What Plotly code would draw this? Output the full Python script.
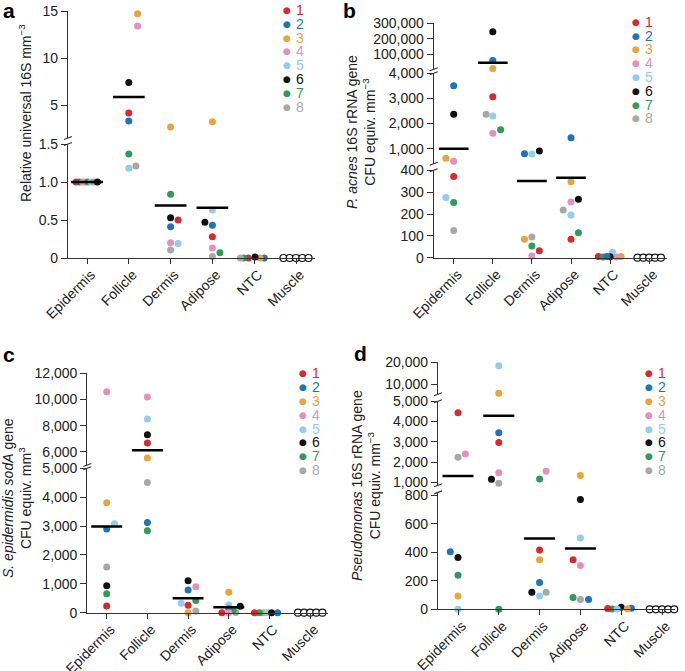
import plotly.graph_objects as go

W, H = 685, 671
FONT = "Liberation Sans, Arial, Helvetica, sans-serif"
AXIS_COLOR = "#333333"
TEXT_COLOR = "#222222"

TISSUES = ["Epidermis", "Follicle", "Dermis", "Adipose", "NTC", "Muscle"]
DONORS = [1, 2, 3, 4, 5, 6, 7, 8]
DONOR_COLORS = ["#d62a2e", "#1f73b7", "#e9a43b", "#e48fbe",
                "#90cdef", "#111111", "#2e9c57", "#a8a8a8"]

# points: (donor, value, jitter in category units); donor 0 = muscle (open circle)
MUSCLE = [(0, 0, -0.3), (0, 0, -0.15), (0, 0, 0), (0, 0, 0.15), (0, 0, 0.3)]

A_POINTS = {
    "Epidermis": [(1, 1.0, -0.26), (2, 1.0, -0.18), (3, 1.0, -0.1), (4, 1.0, -0.04),
                  (7, 1.0, 0.02), (5, 1.0, 0.1), (8, 1.0, 0.16), (6, 1.0, 0.25)],
    "Follicle": [(3, 14.7, 0.21), (4, 13.4, 0.21), (6, 7.4, 0), (1, 4.15, 0),
                 (2, 3.3, 0), (7, 1.37, 0), (5, 1.18, 0), (8, 1.21, 0.17)],
    "Dermis": [(3, 2.66, 0), (7, 0.84, 0), (6, 0.53, 0), (1, 0.5, 0.18),
               (2, 0.41, 0), (4, 0.2, 0), (5, 0.19, 0.18), (8, 0.105, 0)],
    "Adipose": [(3, 3.22, 0), (5, 0.63, 0), (6, 0.47, -0.18), (2, 0.43, 0),
                (1, 0.28, 0), (4, 0.13, 0), (8, 0.02, 0), (7, 0.07, 0.18)],
    "NTC": [(8, 0, -0.33), (7, 0, -0.25), (1, 0, -0.14), (6, 0.012, 0.02),
            (3, 0, 0.14), (2, 0, 0.24)],
    "Muscle": MUSCLE,
}
A_MEANS = [1.0, 5.85, 0.69, 0.66, None, None]

B_POINTS = {
    "Epidermis": [(2, 3500, 0), (6, 2370, 0), (3, 620, -0.2), (4, 500, 0),
                  (1, 372, 0), (5, 276, -0.2), (7, 253, 0), (8, 125, 0)],
    "Follicle": [(6, 245000, 0), (2, 61000, 0), (3, 10000, 0), (1, 3070, 0),
                 (8, 2370, -0.17), (5, 2300, 0), (4, 1620, 0), (7, 1755, 0.2)],
    "Dermis": [(2, 800, -0.19), (5, 790, 0), (6, 908, 0.19), (3, 84, -0.19),
               (8, 95, 0), (7, 54, 0), (1, 32, 0.19), (4, 8, 0)],
    "Adipose": [(2, 1440, 0), (3, 348, 0), (4, 255, 0), (6, 267, 0.19),
                (8, 218, -0.2), (5, 195, 0), (7, 114, 0.19), (1, 84, 0)],
    "NTC": [(1, 5, -0.3), (7, 3, -0.18), (2, 6, -0.08), (6, 4, 0.0),
            (5, 25, 0.06), (4, 3, 0.16), (3, 6, 0.28)],
    "Muscle": MUSCLE,
}
B_MEANS = [1000, 46000, 351, 366, None, None]

C_POINTS = {
    "Epidermis": [(4, 10600, 0), (3, 3810, 0), (5, 3080, 0.19), (2, 2900, 0),
                  (8, 1580, 0), (6, 930, 0), (7, 660, 0), (1, 233, 0)],
    "Follicle": [(4, 10200, 0), (5, 8520, 0), (6, 7300, 0), (1, 6680, 0),
                 (3, 5540, 0), (8, 4510, 0), (2, 3125, 0), (7, 2840, 0)],
    "Dermis": [(6, 1110, 0), (4, 900, 0.19), (2, 790, 0), (5, 330, -0.17),
               (7, 420, 0.19), (1, 260, 0), (8, 60, 0.19), (3, 0, 0)],
    "Adipose": [(3, 710, 0), (5, 270, 0), (6, 220, 0.28), (2, 140, 0),
                (7, 95, 0.11), (4, 0, 0), (8, 10, 0.17), (1, 0, -0.17)],
    "NTC": [(1, 0, -0.37), (7, 0, -0.25), (3, 0, -0.15), (5, 10, -0.05),
            (6, 0, 0.05), (2, 0, 0.2)],
    "Muscle": MUSCLE,
}
C_MEANS = [2986, 6127, 500, 188, None, None]

D_POINTS = {
    "Epidermis": [(1, 4430, 0), (8, 2230, 0), (4, 2400, 0.18), (2, 403, -0.19),
                  (6, 364, 0), (7, 239, 0), (3, 93, 0), (5, 0, 0)],
    "Follicle": [(5, 18300, 0), (3, 6000, 0), (2, 3450, 0), (1, 2960, 0),
                 (4, 1470, 0), (6, 1150, -0.18), (8, 950, 0), (7, 0, 0)],
    "Dermis": [(4, 1540, 0.16), (7, 1160, 0), (1, 416, 0), (3, 348, 0),
               (2, 188, 0), (8, 120, 0.16), (6, 120, -0.19), (5, 93, 0)],
    "Adipose": [(3, 1330, 0), (6, 770, 0), (5, 500, 0), (1, 348, -0.18),
                (4, 307, 0), (7, 82, -0.18), (8, 68, 0), (2, 68, 0.2)],
    "NTC": [(1, 5, -0.33), (7, 2, -0.22), (5, 2, -0.1), (6, 15, 0.0),
            (3, 3, 0.15), (2, 8, 0.25)],
    "Muscle": MUSCLE,
}
D_MEANS = [1310, 4280, 496, 427, None, None]

# broken y axes: (value_lo, value_hi, pixel_bottom, pixel_top) per segment
A_SEGMENTS = [(0, 1.5, 258, 144), (1.5, 15, 138, 11)]
B_SEGMENTS = [(0, 400, 257.7, 170.3), (400, 4000, 163.8, 73.3), (5000, 300000, 69.2, 23.3)]
C_SEGMENTS = [(0, 5000, 612.7, 468.3), (5000, 12000, 465, 373.3)]
D_SEGMENTS = [(0, 820, 609.3, 492.4), (850, 5000, 485.3, 401.3), (5500, 20000, 394.3, 362)]

A_TICKS = [([0, 0.5, 1.0, 1.5], ["0", "0.5", "1.0", "1.5"]), ([5, 10, 15], ["5", "10", "15"])]
B_TICKS = [([0, 100, 200, 300, 400], None), ([1000, 2000, 3000, 4000], None),
           ([100000, 200000, 300000], None)]
C_TICKS = [([0, 1000, 2000, 3000, 4000, 5000], None), ([6000, 8000, 10000, 12000], None)]
D_TICKS = [([0, 200, 400, 600, 800], None), ([1000, 2000, 3000, 4000, 5000], None),
           ([10000, 20000], None)]

PANELS = [
    dict(letter="a", points=A_POINTS, means=A_MEANS, segments=A_SEGMENTS, ticks=A_TICKS,
         xpx=(68, 315, 87, 41.8), letter_pos=(9, 10), title_pos=(25, 113),
         title="Relative universal 16S mm<sup>−3</sup>", legend=(287, 294, 10)),
    dict(letter="b", points=B_POINTS, means=B_MEANS, segments=B_SEGMENTS, ticks=B_TICKS,
         xpx=(433.7, 667, 453.7, 39.1), letter_pos=(349, 10), title_pos=(361, 132),
         title="<i>P. acnes</i> 16S rRNA gene<br>CFU equiv. mm<sup>−3</sup>", legend=(636, 643, 21.7)),
    dict(letter="c", points=C_POINTS, means=C_MEANS, segments=C_SEGMENTS, ticks=C_TICKS,
         xpx=(87.3, 328, 106.7, 40.7), letter_pos=(9, 354), title_pos=(17, 498),
         title="<i>S. epidermidis sodA</i> gene<br>CFU equiv. mm<sup>3</sup>", legend=(303, 310, 373.3)),
    dict(letter="d", points=D_POINTS, means=D_MEANS, segments=D_SEGMENTS, ticks=D_TICKS,
         xpx=(438, 675, 458, 40.8), letter_pos=(361, 353), title_pos=(366, 485),
         title="<i>Pseudomonas</i> 16S rRNA gene<br>CFU equiv. mm<sup>−3</sup>", legend=(649, 656, 373.3)),
]


def xp(px):
    return px / W


def yp(py):
    return 1 - py / H


def axis_name(kind, n):
    return kind if n == 1 else f"{kind}{n}"


def note(text, x, y, size, color, family=FONT, xanchor="center", angle=0):
    return dict(text=text, x=xp(x), y=yp(y), xref="paper", yref="paper",
                showarrow=False, xanchor=xanchor, yanchor="middle", textangle=angle,
                font=dict(size=size, color=color, family=family))


fig = go.Figure()
layout = {}
shapes = []
annotations = []
n_x = 0
n_y = 0

for panel in PANELS:
    n_x += 1
    xname = axis_name("x", n_x)
    left, right, c0, step = panel["xpx"]

    seg_names = []
    for k, (lo, hi, pb, pt) in enumerate(panel["segments"]):
        n_y += 1
        yname = axis_name("y", n_y)
        seg_names.append(yname)
        vals, text = panel["ticks"][k]
        if text is None:
            text = [f"{v:,}" for v in vals]
        layout["yaxis" if n_y == 1 else f"yaxis{n_y}"] = dict(
            domain=[yp(pb), yp(pt)], range=[lo, hi], anchor=xname,
            tickvals=vals, ticktext=text, ticks="outside", ticklen=6,
            tickwidth=1.2, tickcolor=AXIS_COLOR, showline=True,
            linecolor=AXIS_COLOR, linewidth=1.2, showgrid=False, zeroline=False,
            automargin=False,
            tickfont=dict(size=14, color=TEXT_COLOR, family=FONT),
        )
        # break caps on the y axis line
        if k > 0:
            for py in (pb, panel["segments"][k - 1][3]):
                shapes.append(dict(type="line", xref="paper", yref="paper",
                                   x0=xp(left - 4), x1=xp(left + 4),
                                   y0=yp(py + 1.5), y1=yp(py - 1.5),
                                   line=dict(color=AXIS_COLOR, width=1.2)))

    layout["xaxis" if n_x == 1 else f"xaxis{n_x}"] = dict(
        domain=[xp(left), xp(right)], range=[(left - c0) / step, (right - c0) / step],
        anchor=seg_names[0], tickvals=list(range(len(TISSUES))), ticktext=TISSUES,
        tickangle=-45, ticks="outside", ticklen=5, tickwidth=1.2,
        ticklabelshift=4, ticklabelstandoff=-3,
        tickcolor=AXIS_COLOR, showline=True, linecolor=AXIS_COLOR, linewidth=1.2,
        showgrid=False, zeroline=False, automargin=False,
        tickfont=dict(size=14, color=TEXT_COLOR, family=FONT),
    )

    def seg_of(v):
        for name, (lo, hi, pb, pt) in zip(seg_names, panel["segments"]):
            if v <= hi:
                return name
        return seg_names[-1]

    # dots, grouped per donor and segment
    groups = {}
    for i, tissue in enumerate(TISSUES):
        for donor, v, jit in panel["points"][tissue]:
            g = groups.setdefault((donor, seg_of(v)), ([], []))
            g[0].append(i + jit)
            g[1].append(v)
    for (donor, yname), (xs, ys) in groups.items():
        if donor == 0:
            marker = dict(size=7, color="white", line=dict(color="#111111", width=1.2))
        else:
            marker = dict(size=7, color=DONOR_COLORS[donor - 1], line=dict(width=0))
        fig.add_trace(go.Scatter(x=xs, y=ys, xaxis=xname, yaxis=yname, mode="markers",
                                 marker=marker, cliponaxis=False, showlegend=False,
                                 hoverinfo="skip"))

    # mean bars
    for i, m in enumerate(panel["means"]):
        if m is None:
            continue
        fig.add_trace(go.Scatter(x=[i - 0.38, i + 0.38], y=[m, m], xaxis=xname,
                                 yaxis=seg_of(m), mode="lines", cliponaxis=False,
                                 line=dict(color="black", width=2.5),
                                 showlegend=False, hoverinfo="skip"))

    lx, ly = panel["letter_pos"]
    annotations.append(note(f"<b>{panel['letter']}</b>", lx, ly, 21, "black"))
    tx, ty = panel["title_pos"]
    annotations.append(note(panel["title"], tx, ty, 14, TEXT_COLOR, angle=-90))

    # donor legend
    dot_x, num_x, y0 = panel["legend"]
    for k, donor in enumerate(DONORS):
        color = DONOR_COLORS[donor - 1]
        yy = y0 + k * 13.8
        annotations.append(note("●", dot_x, yy, 9, color, family="DejaVu Sans"))
        annotations.append(note(str(donor), num_x, yy, 14, color, xanchor="left"))

fig.update_layout(
    template="none",
    width=W, height=H,
    margin=dict(l=0, r=0, t=0, b=0, autoexpand=False),
    paper_bgcolor="white", plot_bgcolor="white",
    font=dict(family=FONT, size=14, color=TEXT_COLOR),
    shapes=shapes, annotations=annotations,
    **layout,
)

# the page's default body margin would shift the figure by 8 px
fig.write_html("out.html", config={"displayModeBar": False},
               post_script="document.body.style.margin = '0';")
